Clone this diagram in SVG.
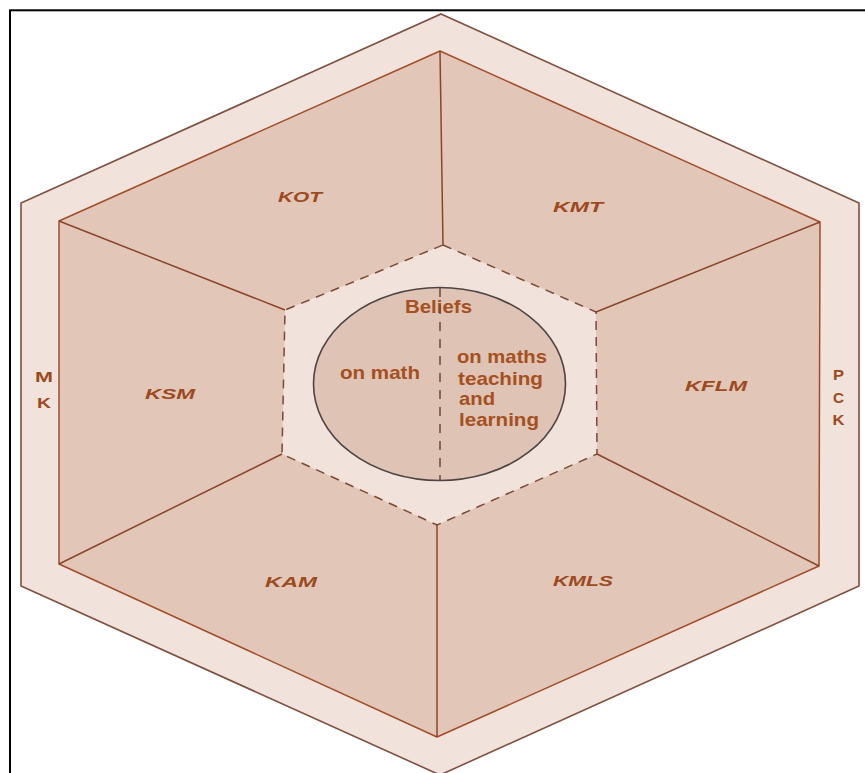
<svg xmlns="http://www.w3.org/2000/svg" width="865" height="773" viewBox="0 0 865 773">
<style>
.frame{fill:none;stroke:#000;stroke-width:2}
.ring{fill:#f1e2db;stroke:#7e5040;stroke-width:1.6}
.sector{fill:#e2c6b7;stroke:#a04c28;stroke-width:1.5;stroke-linejoin:round}
.div{stroke:#8a4528;stroke-width:1.5}
.core{fill:#f1e3dc;stroke:#7a4a35;stroke-width:1.5;stroke-dasharray:9 7}
.ell{fill:#dfc3b4;stroke:#4d4444;stroke-width:1.6}
.vdash{stroke:#6a4a3a;stroke-width:1.5;stroke-dasharray:9 8}
.lbl{font-family:"Liberation Sans",Arial,sans-serif;font-weight:bold;font-style:italic;font-size:14.5px;fill:#9c4a20}
.side{font-family:"Liberation Sans",Arial,sans-serif;font-weight:bold;font-size:15px;fill:#9c4a20}
.ctr{font-family:"Liberation Sans",Arial,sans-serif;font-weight:bold;font-size:19px;fill:#a5501f}
</style>
<rect x="0" y="0" width="865" height="773" fill="#fff"/>
<rect class="frame" x="10" y="10.3" width="900" height="800"/>

<g id="outer-ring">
<polygon class="ring" points="441,14 859,203 859,586 440,775 21,586 21,203"/>
<text class="side" x="44" y="382" text-anchor="middle" textLength="18" lengthAdjust="spacingAndGlyphs">M</text>
<text class="side" x="44" y="408" text-anchor="middle" textLength="14" lengthAdjust="spacingAndGlyphs">K</text>
<text class="side" x="838.5" y="380" text-anchor="middle" textLength="11" lengthAdjust="spacingAndGlyphs">P</text>
<text class="side" x="838.5" y="403" text-anchor="middle" textLength="11" lengthAdjust="spacingAndGlyphs">C</text>
<text class="side" x="838.5" y="425" text-anchor="middle" textLength="12" lengthAdjust="spacingAndGlyphs">K</text>
</g>

<g id="sectors">
<polygon class="sector" points="440,51 820,222 819,566 437,737 59,564 59,221"/>
</g>

<g id="connectors">
<line class="div" x1="440" y1="51" x2="443" y2="245"/>
<line class="div" x1="820" y1="222" x2="596" y2="312"/>
<line class="div" x1="819" y1="566" x2="597" y2="454"/>
<line class="div" x1="437" y1="737" x2="437" y2="525"/>
<line class="div" x1="59" y1="564" x2="282" y2="454"/>
<line class="div" x1="59" y1="221" x2="285" y2="310"/>
</g>

<g id="KOT"><text class="lbl" x="278" y="202" textLength="44" lengthAdjust="spacingAndGlyphs">KOT</text></g>
<g id="KMT"><text class="lbl" x="553" y="211.5" textLength="50" lengthAdjust="spacingAndGlyphs">KMT</text></g>
<g id="KFLM"><text class="lbl" x="685" y="391" textLength="62" lengthAdjust="spacingAndGlyphs">KFLM</text></g>
<g id="KMLS"><text class="lbl" x="553" y="586" textLength="60" lengthAdjust="spacingAndGlyphs">KMLS</text></g>
<g id="KAM"><text class="lbl" x="265" y="587" textLength="52" lengthAdjust="spacingAndGlyphs">KAM</text></g>
<g id="KSM"><text class="lbl" x="145" y="399" textLength="50" lengthAdjust="spacingAndGlyphs">KSM</text></g>

<g id="core">
<polygon class="core" points="443,245 596,312 597,454 437,525 282,454 285,310"/>
</g>

<g id="beliefs">
<ellipse class="ell" cx="439.5" cy="384" rx="126" ry="96.5"/>
<text class="ctr" x="405" y="312.5" textLength="67" lengthAdjust="spacingAndGlyphs">Beliefs</text>
<line class="vdash" x1="440" y1="288" x2="440" y2="480"/>
<text class="ctr" x="340" y="379" textLength="80" lengthAdjust="spacingAndGlyphs">on math</text>
<text class="ctr" x="457" y="362.5" textLength="90" lengthAdjust="spacingAndGlyphs">on maths</text>
<text class="ctr" x="458" y="384.5" textLength="85" lengthAdjust="spacingAndGlyphs">teaching</text>
<text class="ctr" x="459" y="404.5" textLength="36" lengthAdjust="spacingAndGlyphs">and</text>
<text class="ctr" x="459" y="426" textLength="80" lengthAdjust="spacingAndGlyphs">learning</text>
</g>
</svg>
